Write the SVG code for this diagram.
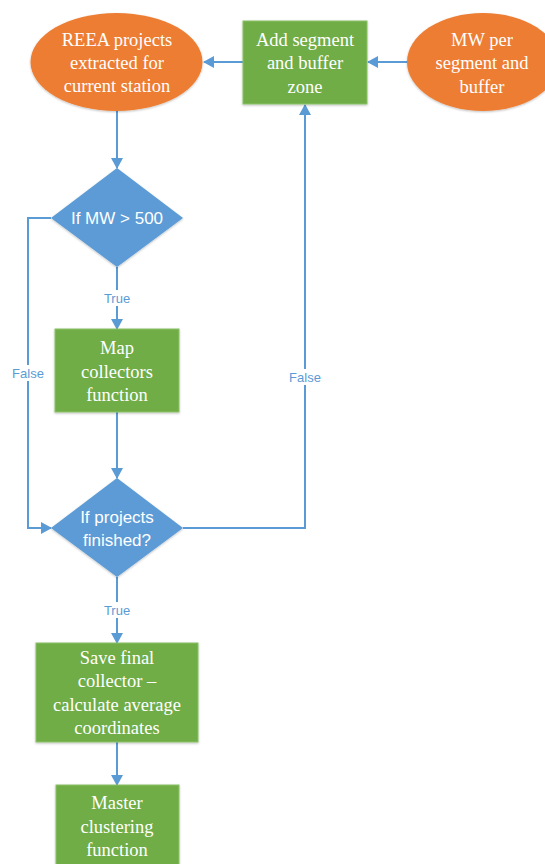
<svg xmlns="http://www.w3.org/2000/svg" width="545" height="864" viewBox="0 0 545 864">
<defs>
<marker id="ah" markerWidth="12" markerHeight="12" refX="10" refY="6" orient="auto" markerUnits="userSpaceOnUse">
<path d="M0,0 L11,6 L0,12 Z" fill="#5b9bd5"/>
</marker>
<filter id="sh" x="-10%" y="-10%" width="120%" height="120%">
<feDropShadow dx="0" dy="1" stdDeviation="1.2" flood-color="#000" flood-opacity="0.25"/>
</filter>
</defs>
<style>
.ell{fill:#ed7d31;filter:url(#sh)}
.box{fill:#70ad47;stroke:#8cc168;stroke-width:1;filter:url(#sh)}
.dia{fill:#5b9bd5;filter:url(#sh)}
.t{font-family:"Liberation Serif","Times New Roman",serif;font-size:18.5px;fill:#fff;text-anchor:middle}
.d{font-family:"Liberation Sans",Arial,sans-serif;font-size:17px;fill:#fff;text-anchor:middle}
.c{fill:none;stroke:#5b9bd5;stroke-width:2}
.lb{font-family:"Liberation Sans",Arial,sans-serif;font-size:13px;fill:#5b9bd5;text-anchor:middle}
.bg{fill:#fff}
</style>
<rect width="545" height="864" fill="#fff"/>
<g id="connectors">
<path class="c" d="M243,62 L204,62" marker-end="url(#ah)"/>
<path class="c" d="M407,62 L368,62" marker-end="url(#ah)"/>
<path class="c" d="M117,111 L117,168" marker-end="url(#ah)"/>
<path class="c" d="M117,267 L117,329" marker-end="url(#ah)"/>
<path class="c" d="M117,412 L117,478" marker-end="url(#ah)"/>
<path class="c" d="M51,218 L28,218 L28,528 L51,528" marker-end="url(#ah)"/>
<path class="c" d="M183,528 L305,528 L305,105" marker-end="url(#ah)"/>
<path class="c" d="M117,577 L117,643" marker-end="url(#ah)"/>
<path class="c" d="M117,742 L117,785" marker-end="url(#ah)"/>
<rect class="bg" x="99" y="290" width="36" height="16"/>
<text class="lb" x="117" y="303">True</text>
<rect class="bg" x="99" y="602" width="36" height="16"/>
<text class="lb" x="117" y="615">True</text>
<rect class="bg" x="9" y="365" width="38" height="16"/>
<text class="lb" x="28" y="378">False</text>
<rect class="bg" x="286" y="369" width="38" height="16"/>
<text class="lb" x="305" y="382">False</text>
</g>
<g id="reea">
<ellipse class="ell" cx="116.5" cy="62" rx="86" ry="49"/>
<text class="t" x="117" y="46">REEA projects</text>
<text class="t" x="117" y="69">extracted for</text>
<text class="t" x="117" y="92">current station</text>
</g>
<g id="addseg">
<rect class="box" x="243" y="21" width="124" height="83"/>
<text class="t" x="305" y="46">Add segment</text>
<text class="t" x="305" y="69">and buffer</text>
<text class="t" x="305" y="93">zone</text>
</g>
<g id="mwper">
<ellipse class="ell" cx="483" cy="62" rx="76" ry="49"/>
<text class="t" x="482" y="46">MW per</text>
<text class="t" x="482" y="69">segment and</text>
<text class="t" x="482" y="93">buffer</text>
</g>
<g id="ifmw">
<polygon class="dia" points="117,168 183,218 117,267 51,218"/>
<text class="d" x="117" y="224">If MW &gt; 500</text>
</g>
<g id="mapcoll">
<rect class="box" x="55" y="329" width="124" height="83"/>
<text class="t" x="117" y="354">Map</text>
<text class="t" x="117" y="378">collectors</text>
<text class="t" x="117" y="401">function</text>
</g>
<g id="ifproj">
<polygon class="dia" points="117,478 183,528 117,577 51,528"/>
<text class="d" x="117" y="523">If projects</text>
<text class="d" x="117" y="546">finished?</text>
</g>
<g id="savefinal">
<rect class="box" x="36" y="643" width="162" height="99"/>
<text class="t" x="117" y="664">Save final</text>
<text class="t" x="117" y="687">collector –</text>
<text class="t" x="117" y="711">calculate average</text>
<text class="t" x="117" y="734">coordinates</text>
</g>
<g id="master">
<rect class="box" x="56" y="785" width="123" height="90"/>
<text class="t" x="117" y="809">Master</text>
<text class="t" x="117" y="833">clustering</text>
<text class="t" x="117" y="856">function</text>
</g>
</svg>
